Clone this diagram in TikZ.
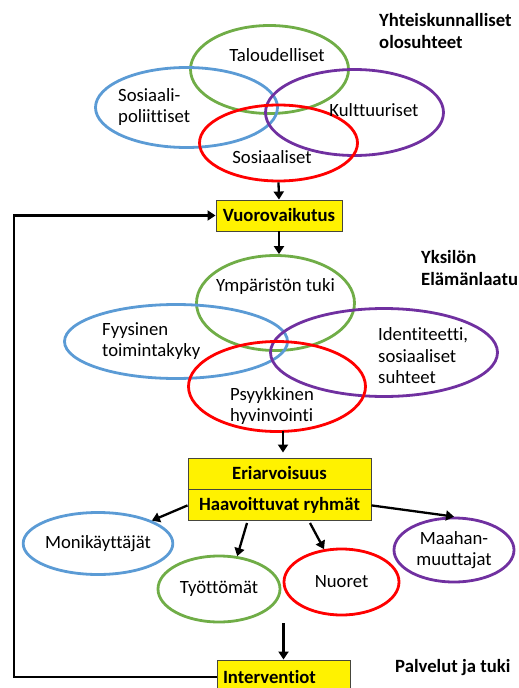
\documentclass[tikz,border=0pt]{standalone}
\usepackage{fontspec}
\setmainfont{Carlito}[Ligatures=NoCommon]
\usetikzlibrary{shapes.geometric,arrows.meta}

\definecolor{ringblue}{RGB}{91,155,213}
\definecolor{ringgreen}{RGB}{112,173,71}
\definecolor{ringpurple}{RGB}{112,48,160}
\definecolor{ringred}{RGB}{255,0,0}
\definecolor{boxedge}{RGB}{70,70,60}

\newcommand{\diagfont}{\fontsize{18.7}{21.5}\selectfont}

\begin{document}
\begin{tikzpicture}[x=1pt,y=-1pt,
  every node/.append style={font=\diagfont},
  ring/.style={draw=#1, ellipse, line width=2.8pt, inner sep=0pt, align=center},
  ybox/.style={draw=boxedge, fill=yellow, line width=0.9pt, font=\diagfont\bfseries, inner sep=0pt, minimum height=31},
  flow/.style={line width=2.3pt, -{Triangle[length=8pt,width=10pt]}},
  head/.style={font=\diagfont\bfseries, align=left, anchor=west, inner sep=0pt},
  lbl/.style={align=left, anchor=west, inner sep=0pt}]

\useasboundingbox (0,0) rectangle (519,688);

% yhteiskunnalliset olosuhteet
\node[ring=ringgreen, minimum width=158, minimum height=88] (talo) at (269.5,69.5) {};
\node[ring=ringblue, minimum width=182, minimum height=80] (sospol) at (186.5,107.5) {};
\node[ring=ringpurple, minimum width=178, minimum height=86] (kult) at (354.5,112.5) {};
\node[ring=ringred, minimum width=158, minimum height=76] (sos) at (278.5,143) {};

\node (talolbl) at (277,55) {Taloudelliset};
\node[lbl] (sospollbl) at (118,107) {Sosiaali-\\poliittiset};
\node (kultlbl) at (374,110) {Kulttuuriset};
\node (soslbl) at (272,157) {Sosiaaliset};
\node[head] (yhteis) at (379,31) {Yhteiskunnalliset\\olosuhteet};

\node[ybox, minimum width=126] (vuoro) at (279,215.5) {Vuorovaikutus};
\draw[flow] (sos.south) -- (vuoro.north);

% yksilon elamanlaatu
\node[ring=ringgreen, minimum width=158, minimum height=95] (ymp) at (275.5,303) {};
\node[ring=ringblue, minimum width=223, minimum height=74] (fyys) at (176,341.5) {};
\node[ring=ringpurple, minimum width=227, minimum height=88] (ident) at (384,352.5) {};
\node[ring=ringred, minimum width=177, minimum height=90] (psyyk) at (277,386.5) {};

\draw[flow] (vuoro.south) -- (vuoro.south |- ymp.north);

\node (ymplbl) at (275.5,287) {Ympäristön tuki};
\node[lbl] (fyyslbl) at (102,341) {Fyysinen\\toimintakyky};
\node[lbl] (identlbl) at (378,356) {Identiteetti,\\sosiaaliset\\suhteet};
\node[lbl] (psyyklbl) at (230,406) {Psyykkinen\\hyvinvointi};
\node[head] (yksilo) at (421,268) {Yksilön\\Elämänlaatu};

% ryhmat
\node[ybox, minimum width=183] (eri) at (279.5,473.5) {Eriarvoisuus};
\node[ybox, minimum width=183, anchor=north] (haav) at (eri.south) {Haavoittuvat ryhmät};
\draw[flow] ([xshift=6pt,yshift=1.5pt]psyyk.south) -- ([xshift=3.5pt,yshift=5pt]eri.north);

\node[ring=ringblue, minimum width=138, minimum height=62] (moni) at (98,543.5) {Monikäyttäjät};
\node[ring=ringgreen, minimum width=122, minimum height=66] (tyo) at (219,589) {Työttömät};
\node[ring=ringred, minimum width=115, minimum height=66] (nuoret) at (341.5,582) {Nuoret};
\node[ring=ringpurple, minimum width=120, minimum height=64] (maahan) at (454,550) {Maahan-\\muuttajat};

\coordinate (tyoout) at (247,523);
\coordinate (nuoretout) at (310,523);
\draw[flow] (haav.west) -- (moni);
\draw[flow] (tyoout) -- (tyo.61);
\draw[flow] (nuoretout) -- (nuoret.118);
\draw[flow] (haav.east) -- (maahan.north);

% palvelut
\coordinate (intervin) at (283.5,623);
\node[ybox, minimum width=133, minimum height=34, text width=121, align=left] (interv) at (283.5,677) {Interventiot};
\draw[flow] (intervin) -- (interv.north);
\draw[flow] (interv.west) -| (14,0 |- vuoro.west) -- (vuoro.west);

\node[head] (palvelut) at (395,668) {Palvelut ja tuki};

\end{tikzpicture}
\end{document}
